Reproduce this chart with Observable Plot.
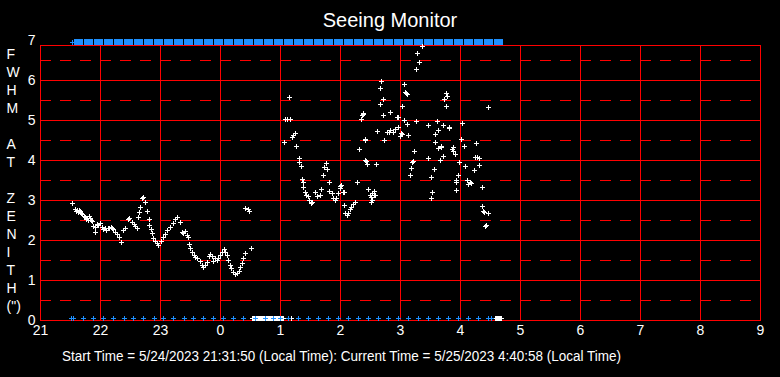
<!DOCTYPE html>
<html>
<head>
<meta charset="utf-8">
<script src="https://cdn.jsdelivr.net/npm/d3@7"></script>
<script src="https://cdn.jsdelivr.net/npm/@observablehq/plot@0.6"></script>
<style>
  html, body { margin: 0; padding: 0; background: #000; }
  #wrap { width: 780px; height: 377px; background: #000; overflow: hidden; }
  #title { height: 30px; box-sizing: border-box; padding-top: 11px; line-height: 19px; font-size: 20px;
           font-family: "Liberation Sans", Arial, sans-serif; color: #fff; text-align: center; }
  #chart { height: 310px; }
  #chart svg text { font-size: 14px; font-family: "Liberation Sans", Arial, sans-serif; }
  #caption { height: 37px; box-sizing: border-box; padding-top: 9px; padding-left: 62px; line-height: 15px;
             font-size: 14px; font-family: "Liberation Sans", Arial, sans-serif; color: #fff; white-space: nowrap; }
  #caption span { display: inline-block; transform-origin: 0 50%; }
</style>
</head>
<body>
<div id="wrap">
  <div id="title"></div>
  <div id="chart"></div>
  <div id="caption"><span></span></div>
</div>
<script>
// ---------- text ----------
const titleText = "Seeing Monitor";
const captionText = "Start Time = 5/24/2023 21:31:50 (Local Time): Current Time = 5/25/2023 4:40:58 (Local Time)";
const yLabelLines = ["F", "W", "H", "M", "", "A", "T", "", "Z", "E", "N", "I", "T", "H", "(\")"];

// ---------- axes ----------
const xTicks = [21, 22, 23, 24, 25, 26, 27, 28, 29, 30, 31, 32, 33];
const xTickLabels = ["21", "22", "23", "0", "1", "2", "3", "4", "5", "6", "7", "8", "9"];
const yTicks = [0, 1, 2, 3, 4, 5, 6, 7];
const yTickLabels = ["0", "1", "2", "3", "4", "5", "6", "7"];
const xGrid = [22, 23, 24, 25, 26, 27, 28, 29, 30, 31, 32];
const ySolidGrid = [1, 2, 3, 4, 5, 6];
const yDashedGrid = [0.5, 1.5, 2.5, 3.5, 4.5, 5.5, 6.5];

// ---------- data: [clock hour, FWHM arcsec] ----------
const seeingEvening = [
  [21.54,2.92],[21.58,2.78],[21.60,2.72],[21.62,2.75],[21.63,2.70],[21.65,2.74],[21.67,2.72],[21.68,2.68],
  [21.70,2.66],[21.73,2.60],[21.75,2.58],[21.77,2.52],[21.78,2.56],[21.80,2.50],[21.82,2.60],[21.83,2.55],
  [21.85,2.50],[21.87,2.47],[21.88,2.35],[21.91,2.21],[21.92,2.32],[21.95,2.41],[21.97,2.38],[22.00,2.42],
  [22.03,2.33],[22.05,2.28],[22.08,2.30],[22.10,2.25],[22.13,2.31],[22.15,2.29],[22.18,2.33],[22.20,2.30],
  [22.22,2.27],[22.25,2.21],[22.28,2.15],[22.31,2.08],[22.35,1.96],[22.39,2.25],[22.42,2.31],[22.46,2.52],
  [22.49,2.56],[22.53,2.46],[22.56,2.40],[22.58,2.35],[22.61,2.29],[22.64,2.57],[22.65,2.69],[22.67,2.83],
  [22.70,3.04],[22.72,3.07],[22.75,2.94],[22.78,2.73],[22.81,2.52],[22.82,2.38],[22.85,2.27],[22.86,2.17],
  [22.89,2.04],[22.92,1.97],[22.95,1.92],[22.97,1.88],[23.01,1.97],[23.05,2.07],[23.08,2.15],[23.12,2.25],
  [23.17,2.33],[23.21,2.43],[23.25,2.52],[23.29,2.58],[23.33,2.46],[23.36,2.21],[23.39,2.18],[23.42,2.22],
  [23.45,2.12],[23.47,2.07],[23.49,1.90],[23.50,1.79],[23.53,1.71],[23.56,1.63],[23.58,1.58],[23.61,1.54],
  [23.66,1.48],[23.70,1.38],[23.72,1.32],[23.75,1.38],[23.78,1.46],[23.81,1.60],[23.83,1.65],[23.86,1.60],
  [23.89,1.48],[23.92,1.54],[23.95,1.50],[23.97,1.54],[0.00,1.63],[0.03,1.71],[0.06,1.77],[0.08,1.71],
  [0.11,1.63],[0.14,1.50],[0.17,1.38],[0.19,1.29],[0.22,1.21],[0.25,1.15],[0.28,1.18],[0.31,1.23],
  [0.33,1.32],[0.36,1.42],[0.39,1.54],[0.41,1.67],[0.42,2.79],[0.46,2.77],[0.49,2.73],[0.52,1.79]
];
const seeingNight = [
  [1.06,4.46],[1.08,5.02],[1.12,5.02],[1.16,5.02],[1.15,5.57],[1.20,4.57],[1.22,4.62],[1.25,4.68],
  [1.27,4.34],[1.31,4.04],[1.32,3.96],[1.35,3.85],[1.36,3.52],[1.38,3.46],[1.39,3.32],[1.41,3.21],
  [1.43,3.13],[1.46,3.10],[1.49,3.00],[1.52,2.93],[1.54,2.96],[1.58,3.21],[1.61,3.10],[1.66,3.13],
  [1.68,3.27],[1.71,3.62],[1.73,3.82],[1.76,3.93],[1.78,3.77],[1.81,3.46],[1.82,3.23],[1.86,3.17],
  [1.88,3.04],[1.91,3.00],[1.93,3.04],[1.97,3.17],[2.00,3.29],[2.00,3.35],[2.02,3.38],[2.05,3.21],
  [2.06,3.19],[2.07,2.88],[2.09,2.67],[2.11,2.63],[2.14,2.68],[2.17,2.77],[2.19,2.82],[2.22,2.90],
  [2.25,2.94],[2.28,3.44],[2.32,4.27],[2.35,5.02],[2.36,5.13],[2.38,5.14],[2.39,5.17],[2.41,4.52],
  [2.42,4.50],[2.42,4.00],[2.43,3.98],[2.45,3.90],[2.46,3.27],[2.50,3.12],[2.51,2.95],[2.52,3.07],
  [2.53,3.00],[2.53,3.17],[2.56,3.13],[2.57,3.22],[2.58,3.12],[2.60,3.90]
];
const seeingLate = [
  [2.62,4.72],[2.66,5.39],[2.67,5.79],[2.69,5.97],[2.71,5.52],[2.72,5.12],[2.74,4.50],[2.78,4.71],
  [2.81,4.70],[2.83,4.75],[2.84,5.20],[2.89,4.71],[2.92,4.77],[2.95,5.08],[2.96,5.07],[2.97,4.83],
  [3.00,4.60],[3.01,4.67],[3.03,4.64],[3.04,5.34],[3.06,5.00],[3.07,5.90],[3.09,5.71],[3.10,5.68],
  [3.11,5.64],[3.11,4.89],[3.12,4.90],[3.14,4.62],[3.17,3.62],[3.19,3.79],[3.20,3.96],[3.22,3.97],
  [3.24,4.22],[3.26,4.97],[3.27,6.27],[3.29,6.67],[3.31,6.44],[3.36,6.85],[3.46,4.87],[3.47,4.04],
  [3.51,3.57],[3.52,3.06],[3.53,3.21],[3.56,3.77],[3.58,4.46],[3.59,4.64],[3.61,4.97],[3.63,4.75],
  [3.64,4.29],[3.66,3.99],[3.68,4.35],[3.69,4.33],[3.71,4.10],[3.72,4.87],[3.73,5.52],[3.76,5.67],
  [3.78,5.61],[3.77,5.34],[3.81,4.83],[3.82,4.81],[3.87,4.28],[3.88,4.33],[3.89,4.23],[3.91,4.15],
  [3.93,3.44],[3.93,3.25],[3.94,3.46],[3.94,3.50],[3.97,3.62],[3.99,3.94],[4.02,4.52],[4.03,4.92],
  [4.06,4.35],[4.09,3.85],[4.11,3.50],[4.14,3.40],[4.17,3.46],[4.19,3.43],[4.23,3.74],[4.25,4.07],
  [4.27,4.42],[4.28,4.08],[4.31,4.05],[4.32,3.87],[4.36,3.32],[4.37,2.85],[4.39,2.72],[4.40,2.71],
  [4.42,2.36],[4.43,2.38],[4.46,2.67],[4.47,5.32]
];
// failed measurements, drawn on the zero line
const zeroTimes = [
  0.53,0.55,0.57,0.58,0.60,0.62,0.63,0.65,0.67,0.68,0.70,0.72,0.73,0.75,0.77,0.78,0.80,0.82,0.83,0.85,
  0.87,0.88,0.90,0.92,0.93,0.95,0.97,0.98,1.00,1.02,1.03,1.05,1.18,
  4.58,4.60,4.62,4.63,4.65,4.67,4.68
];
// blue markers along the bottom
const blueBottomTimes = [
  21.52,21.55,21.72,21.88,22.05,22.22,22.40,22.55,22.72,22.90,23.05,23.22,23.40,23.55,23.72,23.88,
  0.05,0.22,0.38,0.58,0.75,0.88,1.00,1.13,1.30,1.47,1.63,1.80,1.97,2.13,2.30,2.47,2.63,2.80,2.97,
  3.13,3.30,3.47,3.63,3.80,3.97,4.13,4.30,4.47,4.52
];
// blue band along the top: start of each 10-minute block
const blueTopBlocks = [
  21.57,21.73,21.90,22.07,22.23,22.40,22.57,22.73,22.90,23.07,23.23,23.40,23.57,23.73,23.90,
  0.07,0.23,0.40,0.57,0.73,0.90,1.07,1.23,1.40,1.57,1.73,1.90,2.07,2.23,2.40,2.57,2.73,2.90,
  3.07,3.23,3.40,3.57,3.73,3.90,4.07,4.23,4.40,4.57
];
const blueTopMarks = [21.53];
const blockMinutes = 9;

// ---------- build ----------
const toAxis = h => (h < 12 ? h + 24 : h);
const rows = arr => arr.map(([t, v]) => ({t: toAxis(t), v}));
const seeing = [...rows(seeingEvening), ...rows(seeingNight), ...rows(seeingLate)];
const zeros = zeroTimes.map(t => ({t: toAxis(t)}));
const blueBottom = blueBottomTimes.map(t => ({t: toAxis(t)}));
const blueBlocks = blueTopBlocks.map(t => ({t1: toAxis(t), t2: toAxis(t) + blockMinutes / 60}));
const blueTop = blueTopMarks.map(t => ({t: toAxis(t)}));
const yMin = yTicks[0], yMax = yTicks[yTicks.length - 1];

const cross = {
  draw(context, size) {
    const r = Math.sqrt(size / Math.PI);
    context.moveTo(-r, 0); context.lineTo(r, 0);
    context.moveTo(0, -r); context.lineTo(0, r);
  }
};

document.getElementById("title").textContent = titleText;

const RED = "#ff0000", BLUE = "#1e90ff";

const chart = Plot.plot({
  width: 780,
  height: 310,
  marginLeft: 40,
  marginRight: 20,
  marginTop: 15,
  marginBottom: 20,
  style: {background: "#000", color: "#fff", fontFamily: "Liberation Sans, Arial, sans-serif", fontSize: "14px", overflow: "visible"},
  x: {domain: [xTicks[0], xTicks[xTicks.length - 1]], ticks: xTicks, tickFormat: d => xTickLabels[xTicks.indexOf(d)],
      tickSize: 0, tickPadding: 5, label: null, round: true},
  y: {domain: [yMin, yMax], range: [290, 10], ticks: yTicks, tickFormat: d => yTickLabels[yTicks.indexOf(d)],
      tickSize: 0, tickPadding: 5, label: null, round: true},
  marks: [
    Plot.ruleY(yDashedGrid, {stroke: RED, strokeWidth: 1, strokeDasharray: "11,9"}),
    Plot.ruleY(ySolidGrid, {stroke: RED, strokeWidth: 1}),
    Plot.ruleX(xGrid, {stroke: RED, strokeWidth: 1}),
    Plot.frame({stroke: RED, strokeWidth: 1}),
    Plot.text([yLabelLines.map(s => s || "\u00a0").join("\n")], {
      text: d => d, frameAnchor: "left", textAnchor: "start", lineAnchor: "middle",
      dx: -34, dy: -3.5, fontSize: 14, lineHeight: 18 / 14, fill: "#fff"
    }),
    Plot.rect(blueBlocks, {x1: "t1", x2: "t2", y1: () => yMax, y2: () => yMax, insetTop: -1, insetBottom: -5, fill: BLUE}),
    Plot.dot(blueTop, {x: "t", y: () => yMax, dy: 2, symbol: cross, r: 2.5, stroke: BLUE, fill: "none", strokeWidth: 1}),
    Plot.dot(seeing, {x: "t", y: "v", symbol: cross, r: 2.5, stroke: "#fff", fill: "none", strokeWidth: 1}),
    Plot.dot(zeros, {x: "t", y: () => yMin, dy: -2, symbol: cross, r: 2.5, stroke: "#fff", fill: "none", strokeWidth: 1}),
    Plot.dot(blueBottom, {x: "t", y: () => yMin, dy: -2, symbol: cross, r: 2.5, stroke: BLUE, fill: "none", strokeWidth: 1})
  ]
});
document.getElementById("chart").appendChild(chart);

const cap = document.querySelector("#caption span");
cap.textContent = captionText;
const w = cap.getBoundingClientRect().width;
if (w > 0) cap.style.transform = `scaleX(${559 / w})`;
</script>
</body>
</html>
